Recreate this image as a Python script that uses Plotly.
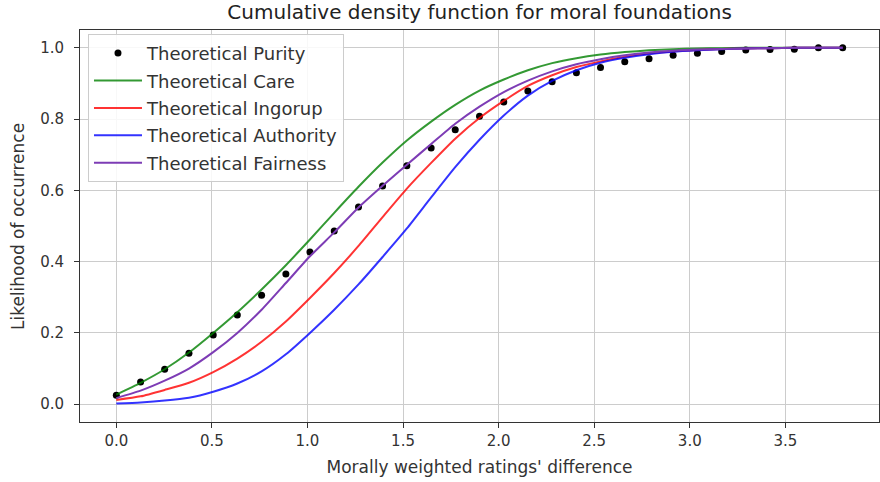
import plotly.graph_objects as go

x_vals = [0.0, 0.127, 0.253, 0.38, 0.507, 0.633, 0.76, 0.887, 1.013, 1.14, 1.267,
          1.393, 1.52, 1.647, 1.773, 1.9, 2.027, 2.153, 2.28, 2.407, 2.533,
          2.66, 2.787, 2.913, 3.04, 3.167, 3.293, 3.42, 3.547, 3.673, 3.8]

purity = [0.025, 0.062, 0.098, 0.143, 0.194, 0.25, 0.306, 0.365, 0.427, 0.486, 0.553,
          0.612, 0.669, 0.719, 0.77, 0.808, 0.848, 0.879, 0.905, 0.93, 0.945,
          0.961, 0.969, 0.979, 0.985, 0.99, 0.994, 0.995, 0.996, 1.0, 1.0]

care = [0.027, 0.060, 0.098, 0.145, 0.200, 0.258, 0.322, 0.390, 0.462, 0.537, 0.610,
        0.678, 0.740, 0.793, 0.840, 0.880, 0.911, 0.937, 0.957, 0.971, 0.981,
        0.988, 0.993, 0.996, 0.998, 0.999, 1.0, 1.0, 1.0, 1.0, 1.0]

ingroup = [0.012, 0.022, 0.040, 0.060, 0.090, 0.128, 0.175, 0.232, 0.298, 0.368, 0.444,
           0.525, 0.605, 0.677, 0.745, 0.803, 0.851, 0.893, 0.923, 0.946, 0.962,
           0.975, 0.984, 0.990, 0.994, 0.997, 0.998, 0.999, 1.0, 1.0, 1.0]

authority = [0.002, 0.005, 0.010, 0.018, 0.035, 0.058, 0.092, 0.140, 0.200, 0.265, 0.336,
             0.413, 0.493, 0.580, 0.665, 0.742, 0.810, 0.866, 0.907, 0.937, 0.958,
             0.972, 0.982, 0.989, 0.993, 0.996, 0.998, 0.999, 1.0, 1.0, 1.0]

fairness = [0.017, 0.038, 0.066, 0.100, 0.146, 0.200, 0.265, 0.340, 0.415, 0.482, 0.552,
            0.613, 0.672, 0.730, 0.787, 0.835, 0.876, 0.908, 0.934, 0.954, 0.968,
            0.979, 0.987, 0.992, 0.995, 0.997, 0.998, 0.999, 1.0, 1.0, 1.0]

names = ["Theoretical Purity", "Theoretical Care", "Theoretical Ingorup",
         "Theoretical Authority", "Theoretical Fairness"]
line_colors = ["rgba(0,128,0,0.8)", "rgba(255,0,0,0.8)", "rgba(0,0,255,0.8)", "#7d3cb5"]

x_ticks = [0.0, 0.5, 1.0, 1.5, 2.0, 2.5, 3.0, 3.5]
x_tick_labels = ["0.0", "0.5", "1.0", "1.5", "2.0", "2.5", "3.0", "3.5"]
y_ticks = [0.0, 0.2, 0.4, 0.6, 0.8, 1.0]
y_tick_labels = ["0.0", "0.2", "0.4", "0.6", "0.8", "1.0"]

FONT = "DejaVu Sans"
fig = go.Figure()
fig.add_trace(go.Scatter(x=x_vals, y=purity, mode="markers", name=names[0],
                         legendgroup="g0",
                         marker=dict(color="black", size=7)))
for i, (series, col) in enumerate(zip([care, ingroup, authority, fairness], line_colors)):
    fig.add_trace(go.Scatter(x=x_vals, y=series, mode="lines", name=names[i + 1],
                             legendgroup=f"g{i+1}",
                             line=dict(color=col, width=2, shape="spline", smoothing=0.6)))

axis_common = dict(showgrid=True, gridcolor="#cccccc", gridwidth=1,
                   showline=True, linecolor="#333333", linewidth=1, mirror=True,
                   ticks="outside", ticklen=5, tickcolor="#333333",
                   tickfont=dict(family=FONT, size=15, color="#333333"),
                   zeroline=False)

fig.update_layout(
    width=880, height=482,
    margin=dict(l=80, r=1, t=30, b=60),
    paper_bgcolor="white", plot_bgcolor="white",
    title=dict(text="Cumulative density function for moral foundations",
               x=0.545, xanchor="center", y=0.976, yanchor="middle",
               font=dict(family=FONT, size=20, color="#222222")),
    xaxis=dict(range=[-0.19, 3.99], tickvals=x_ticks, ticktext=x_tick_labels,
               title=dict(text="Morally weighted ratings' difference", standoff=12,
                          font=dict(family=FONT, size=17, color="#333333")),
               **axis_common),
    yaxis=dict(range=[-0.05, 1.05], tickvals=y_ticks, ticktext=y_tick_labels,
               ticklabelstandoff=7,
               **axis_common),
    annotations=[dict(text="Likelihood of occurrence", textangle=-90,
                      xref="paper", yref="paper", x=-0.0776, y=0.5,
                      xanchor="center", yanchor="middle", showarrow=False,
                      font=dict(family=FONT, size=17, color="#333333"))],
    legend=dict(x=0.01, y=0.99, xanchor="left", yanchor="top",
                bgcolor="rgba(255,255,255,0.85)", bordercolor="#cccccc", borderwidth=1,
                font=dict(family=FONT, size=18, color="#333333"),
                itemwidth=48,
                traceorder="grouped", tracegroupgap=1),
    showlegend=True,
)

fig.write_html("out.html")
